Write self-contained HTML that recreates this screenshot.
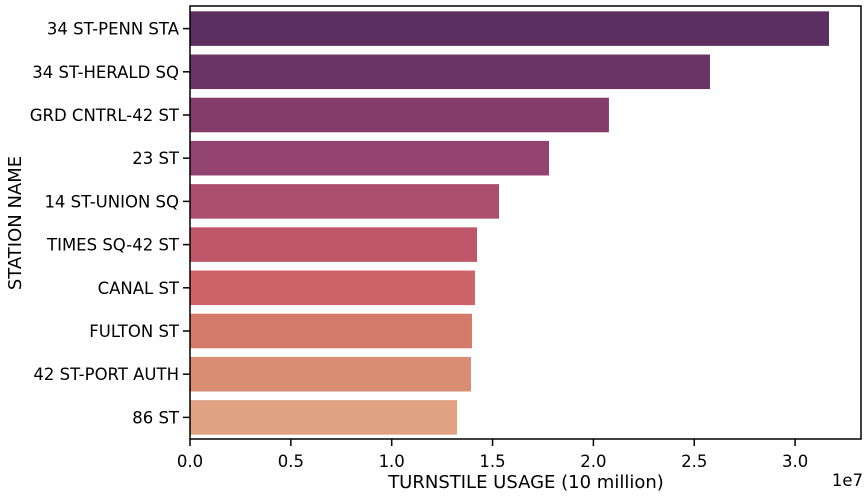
<!DOCTYPE html>
<html><head><meta charset="utf-8"><style>
body{margin:0;background:#fff;font-family:"DejaVu Sans","Liberation Sans",sans-serif;}
svg text{font-family:"DejaVu Sans","Liberation Sans",sans-serif;fill:#000;}
</style></head><body>
<svg id="chart" width="867" height="498" xmlns="http://www.w3.org/2000/svg">
<g id="bars"></g>
<g id="axes"></g>
</svg>
<script>
const stations=["34 ST-PENN STA","34 ST-HERALD SQ","GRD CNTRL-42 ST","23 ST","14 ST-UNION SQ","TIMES SQ-42 ST","CANAL ST","FULTON ST","42 ST-PORT AUTH","86 ST"];
const usage=[3.168,2.578,2.077,1.780,1.532,1.423,1.413,1.398,1.393,1.324];
const barColors=["#5b2f5f","#6b3466","#843c6a","#944470","#ac4f6f","#bf5669","#cc6468","#d47a6b","#d98d72","#e0a283"];
const xTicks=[0,0.5,1.0,1.5,2.0,2.5,3.0];
const xTickLabels=["0.0","0.5","1.0","1.5","2.0","2.5","3.0"];
const L=190,R=861,T=7,B=439;
const xs=v=>L+v*201.7;
const band=(B-T)/stations.length;
const yc=i=>T+band*(i+0.5);
const NS="http://www.w3.org/2000/svg";
function mk(tag,attrs,parent){const e=document.createElementNS(NS,tag);for(const k in attrs)e.setAttribute(k,attrs[k]);parent.appendChild(e);return e;}
const gb=document.getElementById('bars'),ga=document.getElementById('axes');
stations.forEach((s,i)=>{
  const h=band*0.8;
  const r=mk('rect',{x:L,y:yc(i)-h/2,width:xs(usage[i])-L,height:h,fill:barColors[i]},gb);
  
  
  mk('line',{x1:L-7,x2:L,y1:yc(i),y2:yc(i),stroke:'#000','stroke-width':1.5},ga);
  const t=mk('text',{x:L-11,y:yc(i)+6,'text-anchor':'end','font-size':16.5},ga);
  t.textContent=s;
  
  
});
xTicks.forEach((v,i)=>{
  mk('line',{x1:xs(v),x2:xs(v),y1:B,y2:B+7,stroke:'#000','stroke-width':1.5},ga);
  const t=mk('text',{x:xs(v),y:B+28,'text-anchor':'middle','font-size':16.5},ga);
  t.textContent=xTickLabels[i];
  
  
});
const frame=mk('rect',{x:L,y:T-1,width:R-L,height:B-T+1,fill:'none',stroke:'#000','stroke-width':1.5},ga);


const xl=mk('text',{x:526,y:488,'text-anchor':'middle','font-size':18},ga);
xl.textContent="TURNSTILE USAGE (10 million)";


const yl=mk('text',{x:0,y:0,'text-anchor':'middle','font-size':18,transform:'translate(21,'+((T+B)/2)+') rotate(-90)'},ga);
yl.textContent="STATION NAME";


const off=mk('text',{x:863,y:486,'text-anchor':'end','font-size':16.5},ga);
off.textContent="1e7";


</script>
</body></html>
